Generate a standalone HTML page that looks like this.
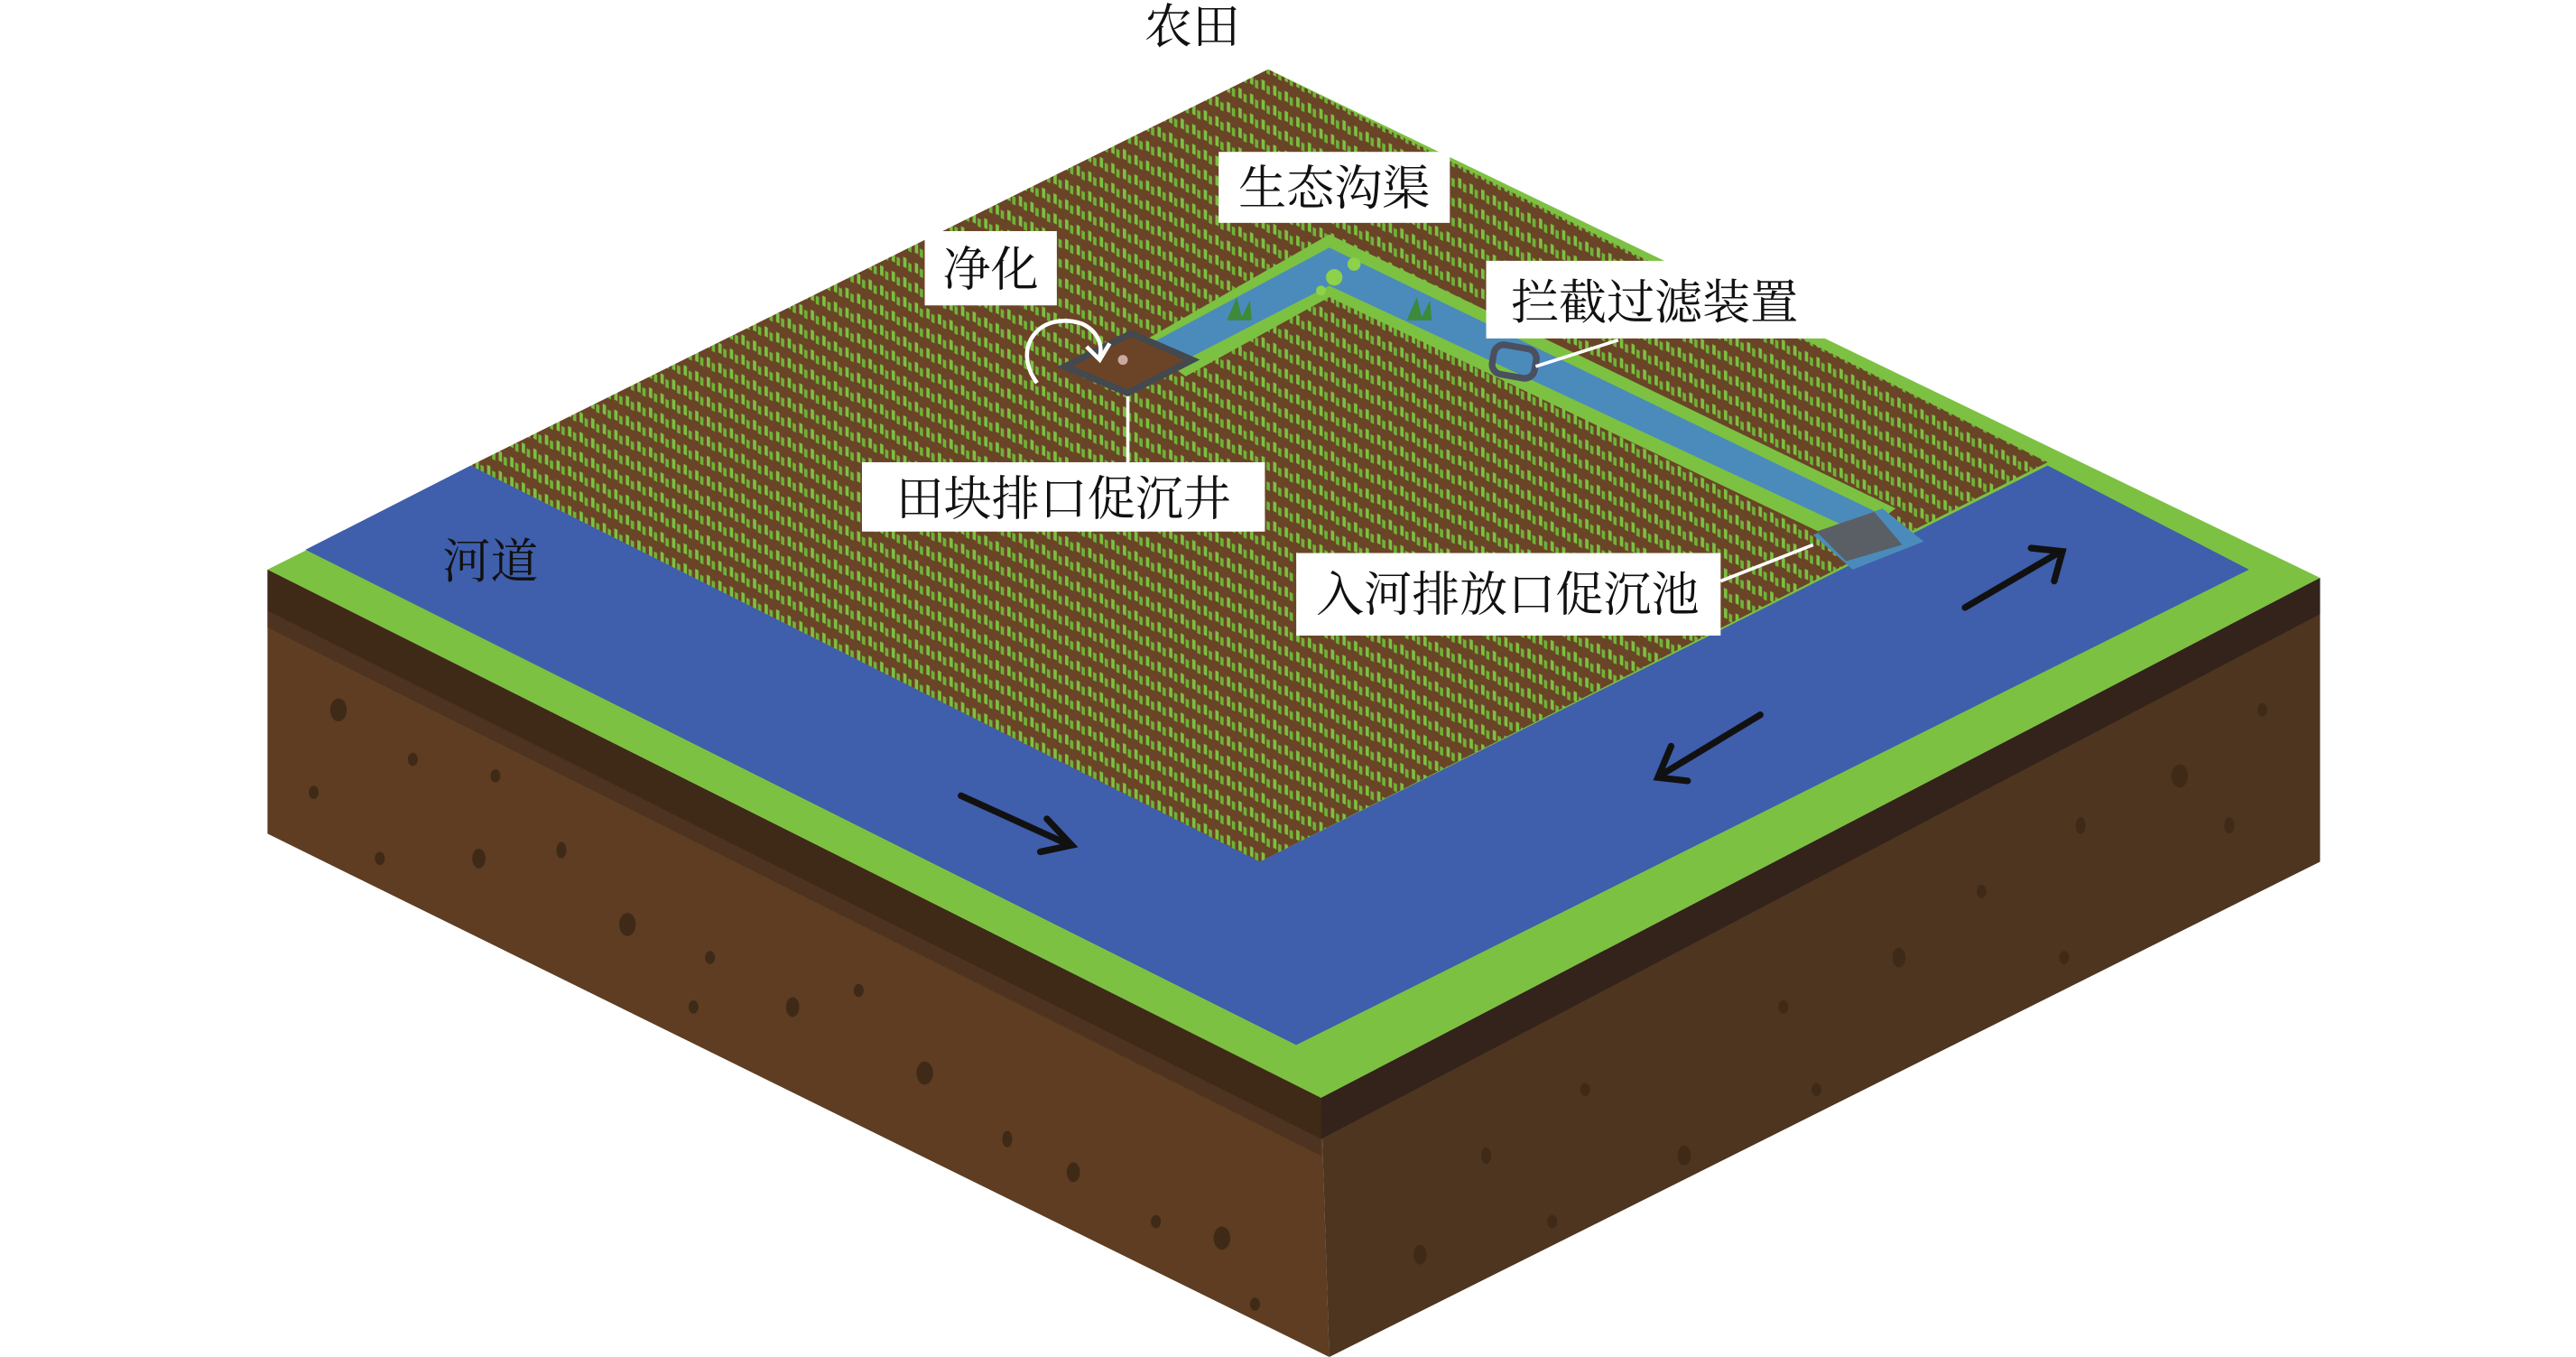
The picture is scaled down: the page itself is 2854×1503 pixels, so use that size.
<!DOCTYPE html>
<html><head><meta charset="utf-8"><style>
html,body{margin:0;padding:0;background:#fff;}
svg{display:block}
text{font-family:"Liberation Serif","Noto Serif CJK SC",serif;fill:#111;}
</style></head><body>
<svg width="2854" height="1503" viewBox="0 0 1560 822" preserveAspectRatio="none" xmlns="http://www.w3.org/2000/svg">
<defs>
<pattern id="crop" width="7" height="12" patternUnits="userSpaceOnUse" patternTransform="matrix(1,0.5,0,1,0,0)">
<rect width="7" height="12" fill="#6a4427"/>
<rect x="1" y="2" width="2" height="6" fill="#7cc142"/>
<rect x="4" y="4" width="2" height="5" fill="#6fb338"/>
</pattern>
</defs>

<polygon points="162,345 800,665 805,822 162,505" fill="#5e3d22"/>
<polygon points="162,345 800,665 800,690 162,370" fill="#3f2a18"/>
<polygon points="162,370 800,690 800,700 162,380" fill="#4d3320"/>
<polygon points="800,665 1405,350 1405,522 805,822" fill="#4e3520"/>
<polygon points="800,665 1405,350 1405,372 800,690" fill="#33231a"/>
<g fill="#3f2a18">
<ellipse cx="205" cy="430" rx="5" ry="7"/><ellipse cx="250" cy="460" rx="3" ry="4"/><ellipse cx="190" cy="480" rx="3" ry="4"/>
<ellipse cx="290" cy="520" rx="4" ry="6"/><ellipse cx="340" cy="515" rx="3" ry="5"/><ellipse cx="380" cy="560" rx="5" ry="7"/>
<ellipse cx="430" cy="580" rx="3" ry="4"/><ellipse cx="480" cy="610" rx="4" ry="6"/><ellipse cx="520" cy="600" rx="3" ry="4"/>
<ellipse cx="560" cy="650" rx="5" ry="7"/><ellipse cx="610" cy="690" rx="3" ry="5"/><ellipse cx="650" cy="710" rx="4" ry="6"/>
<ellipse cx="700" cy="740" rx="3" ry="4"/><ellipse cx="740" cy="750" rx="5" ry="7"/><ellipse cx="760" cy="790" rx="3" ry="4"/>
<ellipse cx="230" cy="520" rx="3" ry="4"/><ellipse cx="420" cy="610" rx="3" ry="4"/><ellipse cx="300" cy="470" rx="3" ry="4"/>
<ellipse cx="900" cy="700" rx="3" ry="5"/><ellipse cx="960" cy="660" rx="3" ry="4"/><ellipse cx="1020" cy="700" rx="4" ry="6"/>
<ellipse cx="1080" cy="610" rx="3" ry="4"/><ellipse cx="1150" cy="580" rx="4" ry="6"/><ellipse cx="1200" cy="540" rx="3" ry="4"/>
<ellipse cx="1260" cy="500" rx="3" ry="5"/><ellipse cx="1320" cy="470" rx="5" ry="7"/><ellipse cx="1370" cy="430" rx="3" ry="4"/>
<ellipse cx="860" cy="760" rx="4" ry="6"/><ellipse cx="940" cy="740" rx="3" ry="4"/><ellipse cx="1100" cy="660" rx="3" ry="4"/>
<ellipse cx="1250" cy="580" rx="3" ry="4"/><ellipse cx="1350" cy="500" rx="3" ry="5"/>
</g>
<polygon points="162,345 768,42 1405,350 800,665" fill="#7cc142"/>
<polygon points="185,333 285,282 763,522 1240,282 1362,345 785,633" fill="#3f5eac"/>
<polygon points="768,42 1240,280 763,522 285,282" fill="url(#crop)"/>
<g>
<polygon points="690,208 805,142 1148,308 1118,330 805,180 718,228" fill="#7cc142"/>
<polygon points="697,208 805,150 1138,311 1120,320 805,173 714,220" fill="#4a8bbb"/>
<polygon points="1098,324 1140,308 1165,328 1122,345" fill="#4a8bbb"/>
<polygon points="1100,322 1135,310 1152,330 1118,340" fill="#5a5f66"/>
<circle cx="808" cy="168" r="5" fill="#8ed14a"/><circle cx="820" cy="160" r="4" fill="#8ed14a"/><circle cx="800" cy="176" r="3" fill="#8ed14a"/>
<path d="M743,194 l6,-14 l3,12 l5,-10 l1,12 z" fill="#3c8a3a"/>
<path d="M852,194 l6,-14 l3,12 l5,-10 l1,12 z" fill="#3c8a3a"/>
<rect x="904" y="210" width="26" height="18" rx="6" fill="none" stroke="#4a5060" stroke-width="4" transform="rotate(10 917 219)"/>
</g>
<polygon points="645,222 685,202 722,218 683,238" fill="#6b4427" stroke="#44484f" stroke-width="4"/>
<circle cx="680" cy="218" r="3" fill="#c9a9a0"/>
<path d="M628,232 C612,210 630,188 655,196 C664,200 668,208 666,216" fill="none" stroke="#fff" stroke-width="2.5"/>
<path d="M658,210 L666,218 L672,208" fill="none" stroke="#fff" stroke-width="2.5"/>
<line x1="683" y1="240" x2="683" y2="282" stroke="#fff" stroke-width="2"/>
<line x1="930" y1="222" x2="980" y2="206" stroke="#fff" stroke-width="2"/>
<line x1="1098" y1="330" x2="1042" y2="352" stroke="#fff" stroke-width="2"/>
<g stroke="#111" stroke-width="4" fill="none" stroke-linecap="round">
<line x1="582" y1="482" x2="648" y2="512"/><path d="M634,496 L649,512 L630,516"/>
<line x1="1066" y1="433" x2="1005" y2="470"/><path d="M1012,452 L1004,471 L1022,473"/>
<line x1="1190" y1="368" x2="1248" y2="334"/><path d="M1230,332 L1249,334 L1244,352"/>
</g>
<rect x="738" y="92" width="140" height="43" fill="#fff"/>
<rect x="560" y="140" width="80" height="45" fill="#fff"/>
<rect x="900" y="158" width="205" height="47" fill="#fff"/>
<rect x="522" y="280" width="244" height="42" fill="#fff"/>
<rect x="785" y="335" width="257" height="50" fill="#fff"/>
<g font-size="29">
<text x="722" y="26" text-anchor="middle">农田</text>
<text x="808" y="124" text-anchor="middle">生态沟渠</text>
<text x="600" y="173" text-anchor="middle">净化</text>
<text x="1002" y="193" text-anchor="middle">拦截过滤装置</text>
<text x="644" y="312" text-anchor="middle">田块排口促沉井</text>
<text x="913" y="370" text-anchor="middle">入河排放口促沉池</text>
<text x="297" y="350" text-anchor="middle">河道</text>
</g>
</svg>
</body></html>
